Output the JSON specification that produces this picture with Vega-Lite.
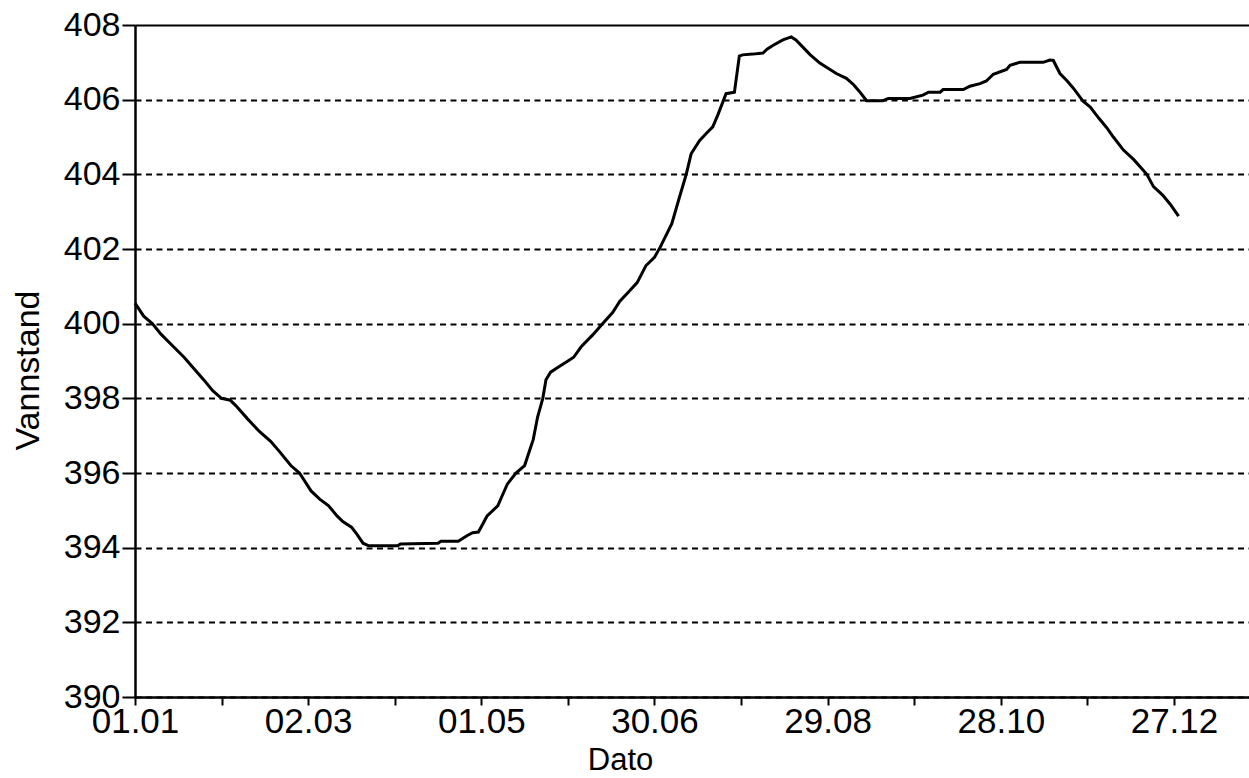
{
  "$schema": "https://vega.github.io/schema/vega-lite/v6.json",
  "width": 1114,
  "height": 672,
  "autosize": {"type": "none"},
  "padding": {"left": 135, "top": 25, "right": 0, "bottom": 81},
  "background": "white",
  "config": {"view": {"stroke": null}, "font": "Liberation Sans"},
  "data": {"values": [
    {"dag": 0, "vannstand": 400.55}, {"dag": 3, "vannstand": 400.2}, {"dag": 6, "vannstand": 400.0},
    {"dag": 9, "vannstand": 399.72}, {"dag": 13, "vannstand": 399.41}, {"dag": 17, "vannstand": 399.1},
    {"dag": 20, "vannstand": 398.83}, {"dag": 24, "vannstand": 398.48}, {"dag": 27, "vannstand": 398.2},
    {"dag": 30, "vannstand": 398.0}, {"dag": 33, "vannstand": 397.95}, {"dag": 35, "vannstand": 397.8},
    {"dag": 39, "vannstand": 397.45}, {"dag": 43, "vannstand": 397.12}, {"dag": 47, "vannstand": 396.85},
    {"dag": 50, "vannstand": 396.58}, {"dag": 54, "vannstand": 396.2}, {"dag": 57, "vannstand": 396.0},
    {"dag": 61, "vannstand": 395.52}, {"dag": 64, "vannstand": 395.3}, {"dag": 67, "vannstand": 395.13},
    {"dag": 70, "vannstand": 394.85}, {"dag": 72, "vannstand": 394.7}, {"dag": 75, "vannstand": 394.55},
    {"dag": 77, "vannstand": 394.35}, {"dag": 79, "vannstand": 394.12}, {"dag": 81, "vannstand": 394.05},
    {"dag": 91, "vannstand": 394.05}, {"dag": 92, "vannstand": 394.1}, {"dag": 105, "vannstand": 394.12},
    {"dag": 106, "vannstand": 394.17}, {"dag": 112, "vannstand": 394.17}, {"dag": 115, "vannstand": 394.32},
    {"dag": 117, "vannstand": 394.4}, {"dag": 119, "vannstand": 394.42}, {"dag": 122, "vannstand": 394.85},
    {"dag": 125.7, "vannstand": 395.12}, {"dag": 127, "vannstand": 395.35}, {"dag": 129, "vannstand": 395.7},
    {"dag": 132, "vannstand": 396.0}, {"dag": 135, "vannstand": 396.2}, {"dag": 138, "vannstand": 396.9},
    {"dag": 139.5, "vannstand": 397.5}, {"dag": 141.3, "vannstand": 398.0}, {"dag": 142.4, "vannstand": 398.5},
    {"dag": 144, "vannstand": 398.7}, {"dag": 147, "vannstand": 398.85}, {"dag": 150, "vannstand": 399.0},
    {"dag": 152, "vannstand": 399.1}, {"dag": 154.6, "vannstand": 399.38}, {"dag": 158.6, "vannstand": 399.7},
    {"dag": 162, "vannstand": 400.0}, {"dag": 165.5, "vannstand": 400.3}, {"dag": 168, "vannstand": 400.6},
    {"dag": 171, "vannstand": 400.85}, {"dag": 174, "vannstand": 401.1}, {"dag": 177, "vannstand": 401.55},
    {"dag": 180, "vannstand": 401.78}, {"dag": 182, "vannstand": 402.05}, {"dag": 186, "vannstand": 402.68},
    {"dag": 188.7, "vannstand": 403.4}, {"dag": 191, "vannstand": 404.0}, {"dag": 192.7, "vannstand": 404.55},
    {"dag": 195.6, "vannstand": 404.9}, {"dag": 198, "vannstand": 405.1}, {"dag": 200.2, "vannstand": 405.27},
    {"dag": 202, "vannstand": 405.6}, {"dag": 204.8, "vannstand": 406.16}, {"dag": 207.7, "vannstand": 406.2},
    {"dag": 209.4, "vannstand": 407.17}, {"dag": 210.5, "vannstand": 407.2}, {"dag": 214, "vannstand": 407.22},
    {"dag": 217.6, "vannstand": 407.25}, {"dag": 219, "vannstand": 407.35}, {"dag": 221, "vannstand": 407.45},
    {"dag": 224.5, "vannstand": 407.6}, {"dag": 227.4, "vannstand": 407.68}, {"dag": 229, "vannstand": 407.6},
    {"dag": 231.5, "vannstand": 407.4}, {"dag": 234, "vannstand": 407.2}, {"dag": 237.3, "vannstand": 406.98},
    {"dag": 240, "vannstand": 406.85}, {"dag": 243, "vannstand": 406.7}, {"dag": 246.5, "vannstand": 406.57},
    {"dag": 249, "vannstand": 406.4}, {"dag": 251, "vannstand": 406.22}, {"dag": 253.5, "vannstand": 405.97},
    {"dag": 259, "vannstand": 405.97}, {"dag": 261, "vannstand": 406.03}, {"dag": 268.5, "vannstand": 406.03},
    {"dag": 273, "vannstand": 406.12}, {"dag": 275, "vannstand": 406.2}, {"dag": 279, "vannstand": 406.2},
    {"dag": 280, "vannstand": 406.27}, {"dag": 287, "vannstand": 406.27}, {"dag": 289.3, "vannstand": 406.36},
    {"dag": 292.8, "vannstand": 406.43}, {"dag": 295, "vannstand": 406.5}, {"dag": 297.4, "vannstand": 406.68},
    {"dag": 302, "vannstand": 406.81}, {"dag": 303.2, "vannstand": 406.92}, {"dag": 306.6, "vannstand": 407.0},
    {"dag": 314.7, "vannstand": 407.0}, {"dag": 317, "vannstand": 407.06}, {"dag": 318.2, "vannstand": 407.05},
    {"dag": 320.5, "vannstand": 406.7}, {"dag": 323, "vannstand": 406.5}, {"dag": 325, "vannstand": 406.32},
    {"dag": 328.6, "vannstand": 405.95}, {"dag": 331, "vannstand": 405.8}, {"dag": 334, "vannstand": 405.5},
    {"dag": 336.7, "vannstand": 405.25}, {"dag": 339, "vannstand": 405.0}, {"dag": 342.5, "vannstand": 404.65},
    {"dag": 346, "vannstand": 404.4}, {"dag": 350.6, "vannstand": 404.0}, {"dag": 352.9, "vannstand": 403.67},
    {"dag": 356, "vannstand": 403.45}, {"dag": 358.7, "vannstand": 403.2}, {"dag": 361.6, "vannstand": 402.88}
  ]},
  "mark": {"type": "line", "color": "black", "strokeWidth": 3, "interpolate": "linear"},
  "encoding": {
    "x": {
      "field": "dag", "type": "quantitative",
      "scale": {"domain": [0, 386], "nice": false, "zero": false},
      "axis": {
        "values": [0, 30, 60, 90, 120, 150, 180, 210, 240, 270, 300, 330, 360],
        "labelExpr": "['01.01','','02.03','','01.05','','30.06','','29.08','','28.10','','27.12'][round(datum.value/30)]",
        "grid": false,
        "domainColor": "black", "domainWidth": 2.5,
        "tickColor": "black", "tickWidth": 2, "tickSize": 8,
        "labelFontSize": 35, "labelColor": "black", "labelPadding": -1,
        "labelFlush": false, "labelOverlap": false,
        "title": "Dato", "titleFontSize": 31, "titleFontWeight": "normal", "titleColor": "black",
        "titleX": 485, "titleY": 72, "titleBaseline": "alphabetic", "titleAlign": "center"
      }
    },
    "y": {
      "field": "vannstand", "type": "quantitative",
      "scale": {"domain": [390, 408], "nice": false, "zero": false},
      "axis": {
        "values": [390, 392, 394, 396, 398, 400, 402, 404, 406, 408],
        "grid": true, "gridColor": "black", "gridWidth": 2.2,
        "gridDash": {"condition": {"test": "datum.value === 408", "value": []}, "value": [6, 4.5]},
        "domainColor": "black", "domainWidth": 2.5,
        "tickColor": "black", "tickWidth": 2, "tickSize": 13,
        "labelFontSize": 34, "labelColor": "black", "labelPadding": 2,
        "labelOverlap": false,
        "title": "Vannstand", "titleFontSize": 34, "titleFontWeight": "normal", "titleColor": "black",
        "titleX": -97, "titleY": 345, "titleBaseline": "alphabetic", "titleAlign": "center"
      }
    }
  }
}
